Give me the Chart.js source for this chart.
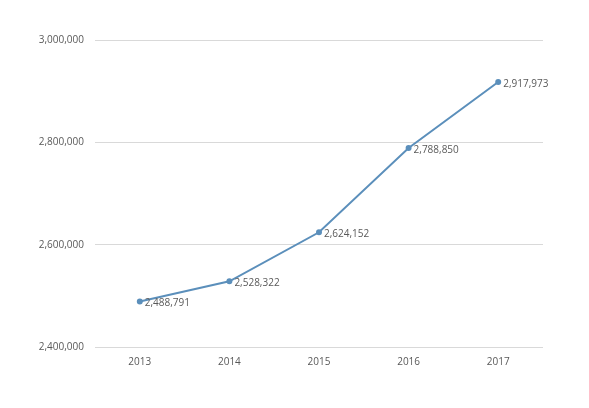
<!DOCTYPE html>
<html>
<head>
<meta charset="utf-8">
<script src="https://cdn.jsdelivr.net/npm/chart.js@4"></script>
<style>
  html, body { margin: 0; padding: 0; background: #fff; }
  #wrap { width: 589px; height: 408px; }
</style>
</head>
<body>
<div id="wrap"><canvas id="myChart"></canvas></div>
<script>
const years = ['2013', '2014', '2015', '2016', '2017'];
const values = [2488791, 2528322, 2624152, 2788850, 2917973];
const yTicks = [2400000, 2600000, 2800000, 3000000];

const ctx = document.getElementById('myChart');
const fmt = (v) => v.toLocaleString('en-US');

// draws the value next to each point
const pointLabels = {
  id: 'pointLabels',
  afterDatasetsDraw(chart) {
    const c = chart.ctx;
    const meta = chart.getDatasetMeta(0);
    c.save();
    c.font = '10px "Open Sans", sans-serif';
    c.fillStyle = '#595959';
    c.textAlign = 'left';
    c.textBaseline = 'middle';
    meta.data.forEach((pt, i) => {
      c.fillText(fmt(values[i]), pt.x + 5, pt.y + 2);
    });
    c.restore();
  }
};

new Chart(ctx, {
  type: 'line',
  data: {
    labels: years,
    datasets: [{
      data: values,
      borderColor: '#5b8fbb',
      backgroundColor: '#5b8fbb',
      borderWidth: 2,
      pointRadius: 2,
      tension: 0
    }]
  },
  options: {
    responsive: true,
    maintainAspectRatio: false,
    animation: false,
    layout: { padding: { top: 40, right: 46, left: 0, bottom: 0 } },
    plugins: {
      legend: { display: false },
      tooltip: { enabled: false }
    },
    scales: {
      x: {
        offset: true,
        grid: { display: false },
        border: { display: false },
        ticks: {
          color: '#595959',
          font: { family: 'Open Sans', size: 10 },
          padding: 1
        },
        afterFit(scale) { scale.height = 61; }
      },
      y: {
        min: 2400000,
        max: 3000000,
        afterBuildTicks(scale) { scale.ticks = yTicks.map(v => ({ value: v })); },
        grid: { color: '#d9d9d9', drawTicks: false, lineWidth: 1 },
        border: { display: false },
        ticks: {
          color: '#595959',
          font: { family: 'Open Sans', size: 10 },
          padding: 11,
          callback: (v) => fmt(v)
        },
        afterFit(scale) { scale.width = 95; }
      }
    }
  },
  plugins: [pointLabels]
});
</script>
</body>
</html>
